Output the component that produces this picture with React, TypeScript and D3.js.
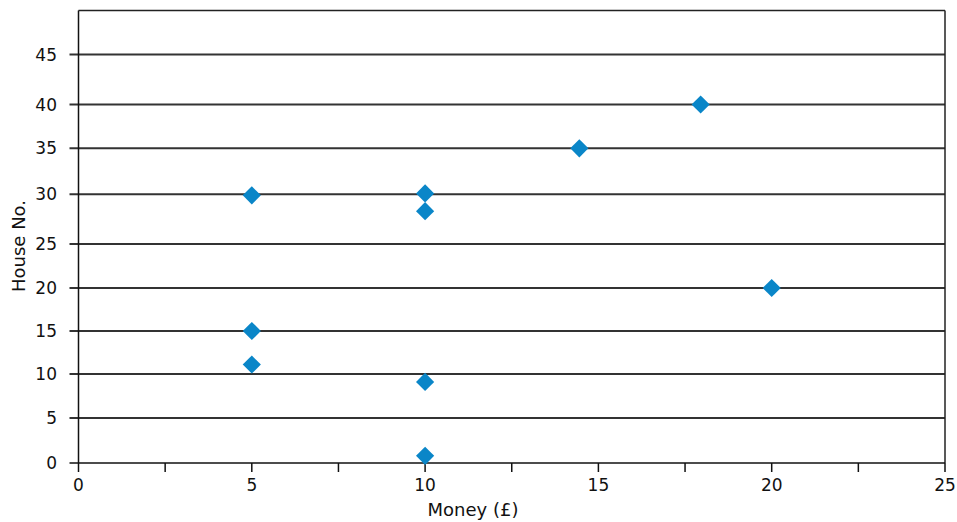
import React from "react";
import * as d3 from "d3";

const moneyValues = [5, 10, 10, 14.45, 17.95, 20, 5, 5, 10, 10];
const houseValues = [29.9, 30.1, 28.3, 35, 40, 20, 15, 11.1, 9.1, 0.8];
const xTicks = [0, 5, 10, 15, 20, 25];
const xMinorTicks = [0, 2.5, 5, 7.5, 10, 12.5, 15, 17.5, 20, 22.5, 25];
const yTicks = [0, 5, 10, 15, 20, 25, 30, 35, 40, 45];

const W = 957;
const H = 522;
const left = 78.5;
const right = 945;
const top = 10.5;
const bottom = 463;

export default function App() {
  const x = d3.scaleLinear().domain([0, 25]).range([left, right]);
  // piecewise scale mirroring the reference's slightly uneven gridline spacing
  const y = d3
    .scaleLinear()
    .domain([0, 5, 10, 15, 20, 25, 30, 35, 40, 45, 50])
    .range([bottom, 418, 374, 331, 288, 244, 194.3, 148.3, 104.5, 54.5, top]);
  const font = "'DejaVu Sans', Verdana, sans-serif";
  const diamond = d3.symbol().type(d3.symbolSquare).size(165)();
  return (
    <div style={{ position: "absolute", left: 0, top: 0 }}>
      <svg width={W} height={H} style={{ display: "block", background: "#fff" }}>
        {yTicks.filter((t) => t > 0).map((t) => (
          <line key={"g" + t} x1={left - 9} x2={right} y1={y(t)} y2={y(t)} stroke="#333" strokeWidth={2} />
        ))}
        <line x1={left} x2={right} y1={top} y2={top} stroke="#222" strokeWidth={1.5} />
        <line x1={right} x2={right} y1={top} y2={bottom} stroke="#222" strokeWidth={1.5} />
        <line x1={left} x2={left} y1={top} y2={bottom} stroke="#111" strokeWidth={1.5} />
        <line x1={left - 9} x2={right} y1={bottom} y2={bottom} stroke="#111" strokeWidth={1.5} />
        {xMinorTicks.map((t) => (
          <line key={"xt" + t} x1={x(t)} x2={x(t)} y1={bottom} y2={bottom + 9} stroke="#111" strokeWidth={1.5} />
        ))}
        {yTicks.map((t) => (
          <text key={"yl" + t} x={57} y={y(t)} dy="0.36em" textAnchor="end" fontFamily={font} fontSize={17} fill="#111">
            {t}
          </text>
        ))}
        {xTicks.map((t) => (
          <text key={"xl" + t} x={x(t)} y={491} textAnchor="middle" fontFamily={font} fontSize={17} fill="#111">
            {t}
          </text>
        ))}
        {moneyValues.map((m, i) => (
          <path
            key={"p" + i}
            d={diamond || ""}
            transform={`translate(${x(m)},${y(houseValues[i])}) rotate(45)`}
            fill="#0A86C8"
          />
        ))}
        <text x={473} y={516} textAnchor="middle" fontFamily={font} fontSize={18} fill="#111">
          Money (£)
        </text>
        <text
          transform={`translate(25,246) rotate(-90)`}
          textAnchor="middle"
          fontFamily={font}
          fontSize={18}
          fill="#111"
        >
          House No.
        </text>
      </svg>
    </div>
  );
}
